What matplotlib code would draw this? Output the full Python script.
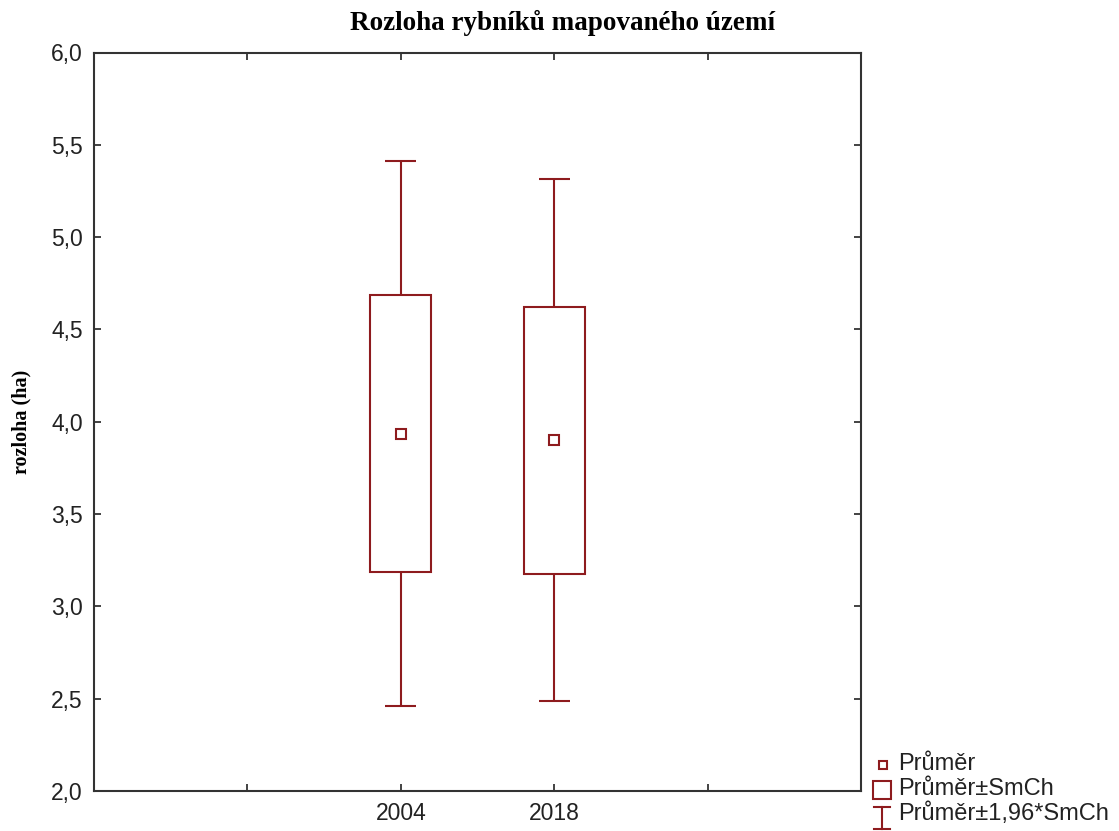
import matplotlib
matplotlib.use("Agg")
import matplotlib.pyplot as plt
import numpy as np
from matplotlib.lines import Line2D
from matplotlib.patches import Rectangle

# Pond area per mapping year: mean and standard error (ha)
years = ["2004", "2018"]
mean_area = [3.936, 3.900]
se_area = [0.752, 0.722]
ci_factor = 1.96

title = "Rozloha rybníků mapovaného území"
ylabel = "rozloha (ha)"
legend_labels = ["Průměr", "Průměr±SmCh", "Průměr±1,96*SmCh"]

color = "#8E1B1E"
W, H = 1119, 831

fig = plt.figure(figsize=(W / 100, H / 100), dpi=100)
ax = fig.add_axes([94 / W, 1 - 791 / H, (861 - 94) / W, (791 - 52.5) / H])

x = np.arange(len(years)) + 2
mean_area = np.array(mean_area)
se_area = np.array(se_area)
box_w = 0.4
cap_w = 0.2
lw = 1.5

for xi, m, s in zip(x, mean_area, se_area):
    ax.add_patch(Rectangle((xi - box_w / 2, m - s), box_w, 2 * s,
                           fill=False, edgecolor=color, linewidth=lw, zorder=3))
    hi = m + ci_factor * s
    lo = m - ci_factor * s
    ax.vlines(xi, m + s, hi, color=color, linewidth=lw, zorder=3)
    ax.vlines(xi, lo, m - s, color=color, linewidth=lw, zorder=3)
    ax.hlines([hi, lo], xi - cap_w / 2, xi + cap_w / 2, color=color, linewidth=lw, zorder=3)

ax.plot(x, mean_area, linestyle="none", marker="s", markersize=7,
        markerfacecolor="white", markeredgecolor=color, markeredgewidth=lw, zorder=4)

ax.set_xlim(0, 5)
ax.set_ylim(2.0, 6.0)
ax.set_xticks([1, 2, 3, 4])
ax.set_xticklabels(["", years[0], years[1], ""])
yt = np.arange(2.0, 6.01, 0.5)
ax.set_yticks(yt)
ax.set_yticklabels([f"{v:.1f}".replace(".", ",") for v in yt])

for lab in ax.get_xticklabels() + ax.get_yticklabels():
    lab.set_family("Liberation Sans")
    lab.set_fontsize(16.5)
ax.tick_params(direction="in", length=5, width=1.2, colors="#222222",
               top=True, right=True, labelcolor="#222222", pad=8)
for sp in ax.spines.values():
    sp.set_linewidth(1.5)
    sp.set_color("#333333")

fig.text(563 / W, 1 - 23 / H, title, ha="center", va="center",
         family="Liberation Serif", fontweight="bold", fontsize=19.5)
fig.text(21 / W, 1 - 422 / H, ylabel, ha="center", va="center", rotation=90,
         family="Liberation Serif", fontweight="bold", fontsize=14.5)


def px(xp, yp):
    return xp / W, 1 - yp / H


def fig_line(xs, ys):
    fx = [xp / W for xp in xs]
    fy = [1 - yp / H for yp in ys]
    fig.add_artist(Line2D(fx, fy, transform=fig.transFigure, color=color, linewidth=lw))


# legend drawn outside the axes, bottom right
lx, ly = px(882.5, 765)
fig.add_artist(Line2D([lx], [ly], transform=fig.transFigure, linestyle="none",
                      marker="s", markersize=6, markerfacecolor="white",
                      markeredgecolor=color, markeredgewidth=lw))
lx, ly = px(882, 790)
fig.add_artist(Line2D([lx], [ly], transform=fig.transFigure, linestyle="none",
                      marker="s", markersize=13.5, markerfacecolor="white",
                      markeredgecolor=color, markeredgewidth=lw))
fig_line([874, 890], [807, 807])
fig_line([882, 882], [807, 829])
fig_line([874, 890], [829, 829])

for yp, label in zip([764, 789, 814], legend_labels):
    tx, ty = px(898, yp)
    fig.text(tx, ty, label, ha="left", va="center", family="Liberation Sans",
             fontsize=17, color="#222222")

fig.savefig("out.png", dpi=100)
